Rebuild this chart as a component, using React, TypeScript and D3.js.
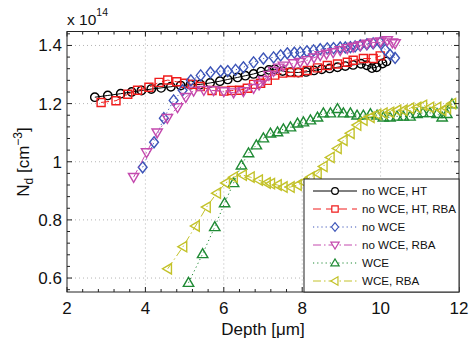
import React from "react";
import * as d3 from "d3";

// Doping profiles N_d versus depth, in units of 1e14 cm^-3
const noWceHt: [number, number][] = [
  [2.71, 1.222], [3.04, 1.228], [3.37, 1.234], [3.65, 1.24], [3.9, 1.245],
  [4.15, 1.25], [4.4, 1.254], [4.65, 1.258], [4.9, 1.262], [5.15, 1.265],
  [5.4, 1.266], [5.65, 1.271], [5.9, 1.277], [6.1, 1.283], [6.35, 1.29],
  [6.55, 1.296], [6.76, 1.302], [6.95, 1.31], [7.15, 1.316], [7.3, 1.318],
  [7.5, 1.312], [7.7, 1.308], [7.9, 1.307], [8.1, 1.309], [8.3, 1.314],
  [8.5, 1.318], [8.7, 1.321], [8.9, 1.325], [9.1, 1.329], [9.3, 1.333],
  [9.5, 1.337], [9.65, 1.332], [9.78, 1.322], [9.9, 1.325], [10.05, 1.338],
  [10.15, 1.345],
];

const noWceHtRba: [number, number][] = [
  [2.87, 1.204], [3.25, 1.21], [3.55, 1.232], [3.8, 1.246], [4.09, 1.256],
  [4.35, 1.273], [4.57, 1.281], [4.8, 1.275], [5.0, 1.27], [5.2, 1.266],
  [5.4, 1.259], [5.7, 1.245], [6.0, 1.243], [6.2, 1.245], [6.4, 1.246],
  [6.6, 1.253], [6.76, 1.266], [6.94, 1.27], [7.11, 1.28], [7.3, 1.298],
  [7.5, 1.305], [7.7, 1.307], [7.9, 1.307], [8.13, 1.314], [8.39, 1.323],
  [8.64, 1.331], [8.9, 1.336], [9.15, 1.342], [9.3, 1.349], [9.56, 1.355],
  [9.81, 1.355], [9.99, 1.364],
];

const noWce: [number, number][] = [
  [3.93, 0.981], [4.22, 1.067], [4.47, 1.15], [4.72, 1.211], [4.95, 1.246],
  [5.16, 1.28], [5.41, 1.297], [5.66, 1.307], [5.92, 1.312], [6.1, 1.312],
  [6.3, 1.316], [6.5, 1.325], [6.76, 1.342], [7.01, 1.355], [7.27, 1.359],
  [7.45, 1.366], [7.62, 1.373], [7.8, 1.375], [7.95, 1.376], [8.12, 1.38],
  [8.29, 1.383], [8.46, 1.387], [8.64, 1.39], [8.8, 1.391], [8.97, 1.393],
  [9.1, 1.393], [9.23, 1.394], [9.35, 1.397], [9.48, 1.4], [9.65, 1.404],
  [9.81, 1.407], [9.99, 1.41], [10.12, 1.385], [10.24, 1.368], [10.37, 1.357],
];

const noWceRba: [number, number][] = [
  [3.7, 0.947], [4.03, 1.032], [4.3, 1.1], [4.56, 1.15], [4.82, 1.187],
  [5.03, 1.222], [5.23, 1.244], [5.49, 1.246], [5.74, 1.245], [6.0, 1.242],
  [6.25, 1.238], [6.5, 1.242], [6.76, 1.253], [6.9, 1.265], [7.01, 1.28],
  [7.15, 1.298], [7.27, 1.312], [7.4, 1.323], [7.52, 1.33], [7.78, 1.338],
  [7.95, 1.343], [8.13, 1.349], [8.3, 1.358], [8.46, 1.366], [8.62, 1.371],
  [8.79, 1.376], [8.97, 1.383], [9.15, 1.39], [9.3, 1.395], [9.48, 1.4],
  [9.65, 1.405], [9.81, 1.41], [10.0, 1.413], [10.17, 1.417], [10.3, 1.41],
  [10.37, 1.407],
];

const wce: [number, number][] = [
  [5.1, 0.584], [5.46, 0.683], [5.77, 0.776], [6.02, 0.858], [6.25, 0.927],
  [6.45, 0.988], [6.63, 1.03], [6.83, 1.057], [7.01, 1.081], [7.19, 1.098],
  [7.37, 1.102], [7.52, 1.112], [7.7, 1.119], [7.88, 1.132], [8.03, 1.136],
  [8.21, 1.143], [8.39, 1.153], [8.54, 1.167], [8.72, 1.167], [8.9, 1.182],
  [9.05, 1.167], [9.23, 1.167], [9.4, 1.16], [9.56, 1.16], [9.74, 1.165],
  [9.91, 1.16], [10.07, 1.153], [10.24, 1.153], [10.42, 1.156], [10.58, 1.156],
  [10.75, 1.156], [10.93, 1.165], [11.08, 1.168], [11.26, 1.168], [11.44, 1.165],
  [11.57, 1.153], [11.69, 1.165], [11.82, 1.198],
];

const wceRba: [number, number][] = [
  [4.57, 0.632], [4.96, 0.708], [5.28, 0.779], [5.56, 0.844], [5.82, 0.892],
  [6.05, 0.927], [6.25, 0.947], [6.48, 0.954], [6.68, 0.947], [6.89, 0.937],
  [7.09, 0.927], [7.2, 0.925], [7.37, 0.92], [7.52, 0.913], [7.7, 0.913],
  [7.88, 0.92], [8.03, 0.93], [8.21, 0.947], [8.39, 0.96], [8.54, 0.984],
  [8.72, 1.015], [8.9, 1.046], [9.05, 1.074], [9.23, 1.098], [9.4, 1.126],
  [9.56, 1.143], [9.74, 1.153], [9.91, 1.163], [10.07, 1.167], [10.24, 1.17],
  [10.42, 1.177], [10.58, 1.177], [10.75, 1.184], [10.93, 1.187], [11.08, 1.194],
  [11.26, 1.187], [11.44, 1.187], [11.57, 1.177], [11.69, 1.184], [11.82, 1.2],
];

const xTicks = [2, 4, 6, 8, 10, 12];
const yTicks = [0.6, 0.8, 1, 1.2, 1.4];
const seriesNames = [
  "no WCE, HT",
  "no WCE, HT, RBA",
  "no WCE",
  "no WCE, RBA",
  "WCE",
  "WCE, RBA",
];

type Marker = "circle" | "square" | "diamond" | "tdown" | "tup" | "tleft";

const styles: { color: string; dash: string; marker: Marker }[] = [
  { color: "#000000", dash: "none", marker: "circle" },
  { color: "#f01c1c", dash: "8,5", marker: "square" },
  { color: "#3d55b8", dash: "1.2,3", marker: "diamond" },
  { color: "#c44aae", dash: "8,3,1.5,3", marker: "tdown" },
  { color: "#1f8a34", dash: "1.2,3", marker: "tup" },
  { color: "#c3c22a", dash: "8,3,1.5,3", marker: "tleft" },
];

const allSeries = [noWceHt, noWceHtRba, noWce, noWceRba, wce, wceRba];

const W = 474;
const H = 344;
const L = 67;
const R = 459;
const T = 31.5;
const B = 292;

const x = d3.scaleLinear().domain([2, 12]).range([L, R]);
const y = d3.scaleLinear().domain([0.552, 1.448]).range([B, T]);

function markerPath(m: Marker): string {
  switch (m) {
    case "circle":
      return "M4.2,0A4.2,4.2 0 1,1 -4.2,0A4.2,4.2 0 1,1 4.2,0Z";
    case "square":
      return "M-4,-4H4V4H-4Z";
    case "diamond":
      return "M0,-5.5L4.4,0L0,5.5L-4.4,0Z";
    case "tdown":
      return "M-5.2,-3.7H5.2L0,5.2Z";
    case "tup":
      return "M-5.2,3.7H5.2L0,-5.2Z";
    case "tleft":
      return "M3.7,-5.2V5.2L-5.2,0Z";
  }
}

const font = "'Liberation Sans', Arial, Helvetica, sans-serif";

export default function App() {
  const line = d3
    .line<[number, number]>()
    .x((d) => x(d[0]))
    .y((d) => y(d[1]));

  const xMinor = d3.range(2, 12.001, 0.4);
  const yMinor = d3.range(0.56, 1.4401, 0.04);

  const legX = 304;
  const legY = 179;
  const legW = R - legX;
  const legH = B - legY;
  const rowY = (i: number) => 191 + i * 18;

  return (
    <svg
      width={W}
      height={H}
      style={{ position: "absolute", left: 0, top: 0, background: "#fff" }}
      fontFamily={font}
    >
      <rect x={0} y={0} width={W} height={H} fill="#fff" />
      {/* grid */}
      <g stroke="#b4b4b4" strokeWidth={1} strokeDasharray="1,3">
        {xTicks.slice(1, -1).map((t) => (
          <line key={"gx" + t} x1={x(t)} x2={x(t)} y1={T} y2={B} />
        ))}
        {yTicks.map((t) => (
          <line key={"gy" + t} x1={L} x2={R} y1={y(t)} y2={y(t)} />
        ))}
      </g>

      {/* series */}
      <g clipPath="url(#plotclip)">
        {allSeries.map((s, i) => (
          <g key={"s" + i}>
            <path
              d={line(s) || ""}
              fill="none"
              stroke={styles[i].color}
              strokeWidth={1}
              strokeDasharray={styles[i].dash}
            />
            {s.map((d, j) => (
              <path
                key={j}
                d={markerPath(styles[i].marker)}
                transform={`translate(${x(d[0])},${y(d[1])})`}
                fill="none"
                stroke={styles[i].color}
                strokeWidth={1.4}
              />
            ))}
          </g>
        ))}
      </g>

      {/* ticks on all four sides */}
      <g stroke="#222" strokeWidth={1}>
        {xMinor.map((t) => {
          const major = xTicks.some((m) => Math.abs(m - t) < 1e-6);
          const len = major ? 5 : 3;
          return (
            <g key={"xt" + t}>
              <line x1={x(t)} x2={x(t)} y1={B} y2={B - len} />
              <line x1={x(t)} x2={x(t)} y1={T} y2={T + len} />
            </g>
          );
        })}
        {yMinor.map((t) => {
          const major = yTicks.some((m) => Math.abs(m - t) < 1e-6);
          const len = major ? 5 : 3;
          return (
            <g key={"yt" + t}>
              <line x1={L} x2={L + len} y1={y(t)} y2={y(t)} />
              <line x1={R} x2={R - len} y1={y(t)} y2={y(t)} />
            </g>
          );
        })}
      </g>
      <rect x={L} y={T} width={R - L} height={B - T} fill="none" stroke="#222" strokeWidth={1} />

      {/* tick labels */}
      <g fontSize={17} fill="#111">
        {xTicks.map((t) => (
          <text key={"xl" + t} x={x(t)} y={314} textAnchor="middle">
            {t}
          </text>
        ))}
        {yTicks.map((t) => (
          <text key={"yl" + t} x={62} y={y(t)} dy="0.35em" textAnchor="end">
            {d3.format("~g")(t)}
          </text>
        ))}
      </g>

      {/* exponent */}
      <text x={67} y={24.5} fontSize={15.5} fill="#111">
        x 10
        <tspan fontSize={10.5} dy={-9}>
          14
        </tspan>
      </text>

      {/* axis labels */}
      <text x={(L + R) / 2} y={335} fontSize={17} textAnchor="middle" fill="#111">
        Depth [μm]
      </text>
      <text
        transform="translate(29,162) rotate(-90)"
        fontSize={17}
        textAnchor="middle"
        fill="#111"
      >
        N
        <tspan fontSize={12} dy={4}>
          d
        </tspan>
        <tspan dy={-4}> [cm</tspan>
        <tspan fontSize={12} dy={-7}>
          −3
        </tspan>
        <tspan dy={7}>]</tspan>
      </text>

      {/* legend */}
      <rect x={legX} y={legY} width={legW} height={legH} fill="#fff" stroke="#222" strokeWidth={1} />
      {seriesNames.map((name, i) => (
        <g key={"lg" + i}>
          <line
            x1={313}
            x2={357}
            y1={rowY(i)}
            y2={rowY(i)}
            stroke={styles[i].color}
            strokeWidth={1}
            strokeDasharray={styles[i].dash}
          />
          <path
            d={markerPath(styles[i].marker)}
            transform={`translate(335,${rowY(i)}) scale(0.8)`}
            fill="#fff"
            stroke={styles[i].color}
            strokeWidth={1.5}
          />
          <text x={362} y={rowY(i)} dy="0.36em" fontSize={11.6} fill="#111">
            {name}
          </text>
        </g>
      ))}

      <defs>
        <clipPath id="plotclip">
          <rect x={L - 6} y={T - 6} width={R - L + 12} height={B - T + 12} />
        </clipPath>
      </defs>
    </svg>
  );
}
